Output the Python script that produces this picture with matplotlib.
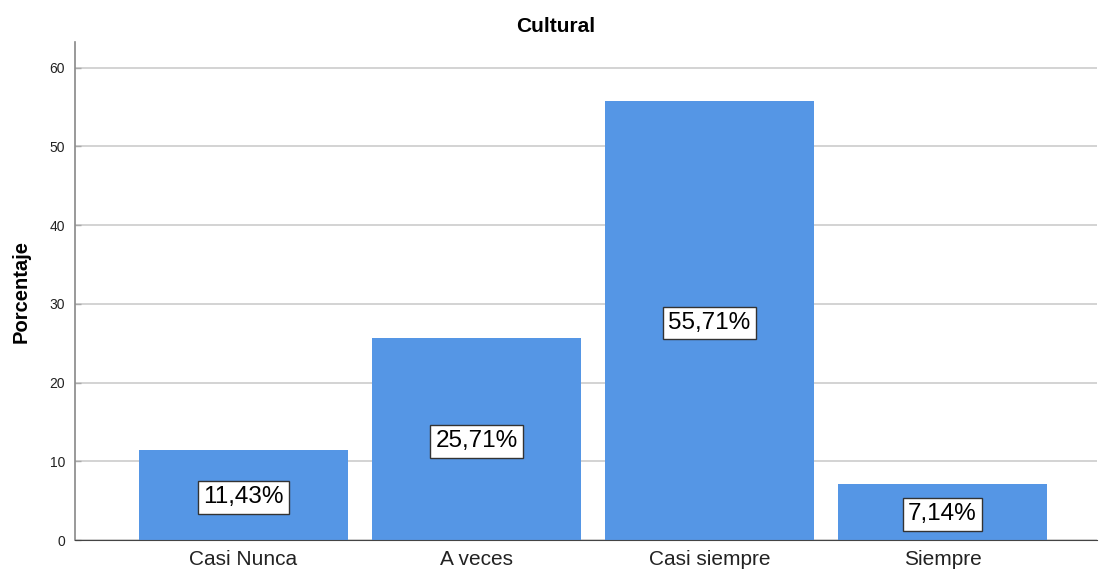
import matplotlib
matplotlib.use('Agg')
import matplotlib.pyplot as plt

plt.rcParams['font.family'] = ['Liberation Sans', 'DejaVu Sans']

categorias = ['Casi Nunca', 'A veces', 'Casi siempre', 'Siempre']
porcentajes = [11.43, 25.71, 55.71, 7.14]
etiquetas = ['11,43%', '25,71%', '55,71%', '7,14%']

fig = plt.figure(figsize=(10.99, 5.70), dpi=100)
ax = fig.add_axes([0.0682, 0.0526, 0.930, 0.873])

x = range(len(categorias))
ax.bar(x, porcentajes, width=0.897, color='#5596E5', zorder=2)

for i, v in enumerate(porcentajes):
    ax.text(i, v / 2 - 0.3, etiquetas[i], ha='center', va='center', fontsize=17.5, zorder=3,
            bbox=dict(boxstyle='square,pad=0.22', fc='white', ec='#333333', lw=1))

ax.set_xlim(-0.723, 3.663)
ax.set_ylim(0, 63.2)
ax.set_yticks([0, 10, 20, 30, 40, 50, 60])
ax.set_xticks(list(x))
ax.set_xticklabels(categorias, fontsize=15, color='#222222')
ax.tick_params(axis='y', direction='in', length=4, width=1, color='#aaaaaa',
               labelsize=10, pad=7, labelcolor='#222222')
ax.tick_params(axis='x', length=0, pad=7)
ax.yaxis.grid(True, color='#cccccc', lw=1.2, zorder=0)
ax.set_axisbelow(True)

for s in ['top', 'right']:
    ax.spines[s].set_visible(False)
ax.spines['left'].set_color('#888888')
ax.spines['left'].set_linewidth(1.2)
ax.spines['bottom'].set_color('#444444')

ax.set_ylabel('Porcentaje', fontsize=14.5, fontweight='bold', labelpad=14)
fig.text(0.506, 0.953, 'Cultural', ha='center', va='center', fontsize=15, fontweight='bold')

plt.savefig('out.png', dpi=100)
